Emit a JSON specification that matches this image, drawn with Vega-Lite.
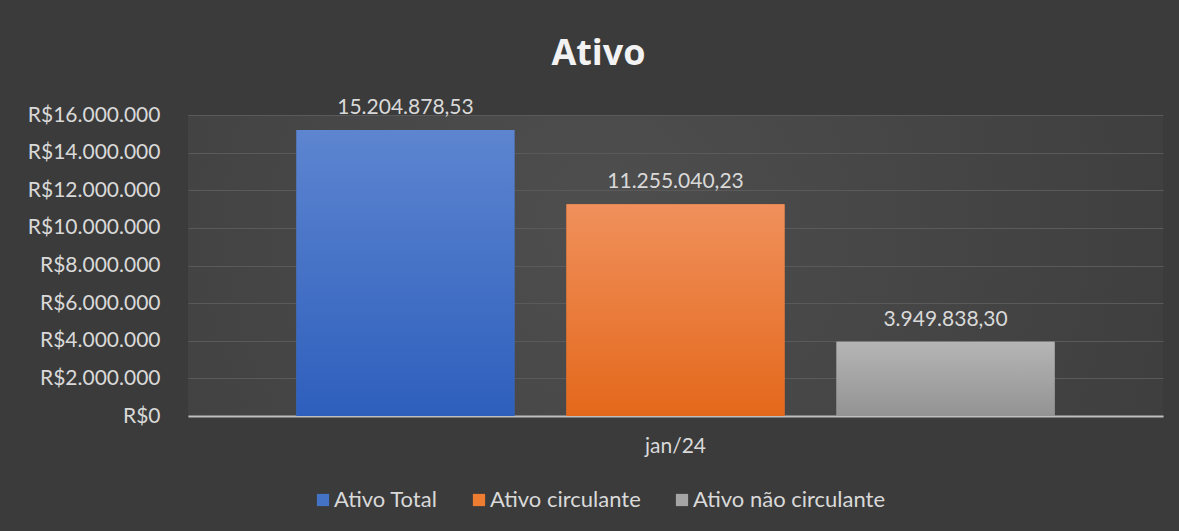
{
  "$schema": "https://vega.github.io/schema/vega-lite/v6.json",
  "width": 975,
  "height": 301,
  "autosize": {"type": "none"},
  "padding": {"left": 188, "top": 115, "right": 16, "bottom": 115},
  "background": "#3b3b3b",
  "config": {
    "locale": {
      "number": {"decimal": ",", "thousands": ".", "grouping": [3], "currency": ["R$", ""]}
    },
    "view": {
      "stroke": null,
      "fill": {
        "gradient": "radial",
        "x1": 0.42, "y1": 0.45, "x2": 0.42, "y2": 0.45, "r1": 0, "r2": 0.75,
        "stops": [{"offset": 0, "color": "#4e4e4e"}, {"offset": 1, "color": "#3b3b3b"}]
      }
    },
    "font": "Lato"
  },
  "title": {
    "text": "Ativo",
    "font": "Open Sans",
    "fontSize": 36,
    "fontWeight": "bold",
    "color": "#f2f2f2",
    "anchor": "middle",
    "dx": -77,
    "offset": 24
  },
  "data": {
    "values": [
      {"mes": "jan/24", "serie": "Ativo Total", "valor": 15204878.53},
      {"mes": "jan/24", "serie": "Ativo circulante", "valor": 11255040.23},
      {"mes": "jan/24", "serie": "Ativo não circulante", "valor": 3949838.30}
    ]
  },
  "encoding": {
    "x": {
      "field": "mes", "type": "nominal",
      "scale": {"paddingInner": 0, "paddingOuter": 0.143},
      "axis": {
        "title": null, "labelAngle": 0, "labelFontSize": 21, "labelColor": "#d9d9d9",
        "domainColor": "#bfbfbf", "domainWidth": 2, "ticks": false, "labelPadding": 19
      }
    },
    "xOffset": {
      "field": "serie", "type": "nominal",
      "sort": ["Ativo Total", "Ativo circulante", "Ativo não circulante"],
      "scale": {"paddingInner": 0.1926, "paddingOuter": 0}
    },
    "y": {
      "field": "valor", "type": "quantitative",
      "scale": {"domain": [0, 16000000], "nice": false},
      "axis": {
        "title": null, "format": "$,.0f",
        "values": [0, 2000000, 4000000, 6000000, 8000000, 10000000, 12000000, 14000000, 16000000],
        "labelFontSize": 21, "labelColor": "#d9d9d9", "labelPadding": 28,
        "domain": false, "ticks": false,
        "gridColor": "#5a5a5a", "gridWidth": 1
      }
    }
  },
  "layer": [
    {
      "mark": {"type": "bar"},
      "encoding": {
        "color": {
          "field": "serie", "type": "nominal",
          "sort": ["Ativo Total", "Ativo circulante", "Ativo não circulante"],
          "scale": {"domain": ["Ativo Total", "Ativo circulante", "Ativo não circulante"], "range": ["#4472c4", "#ed7d31", "#a5a5a5"]},
          "legend": {
            "title": null, "orient": "none", "direction": "horizontal",
            "legendX": 124, "legendY": 374,
            "symbolType": "square", "symbolSize": 150, "symbolStrokeWidth": 0, "symbolOpacity": 1,
            "labelFontSize": 22, "labelColor": "#d9d9d9", "labelOffset": 0, "columnPadding": 30,
            "labelLimit": 400
          }
        }
      }
    },
    {
      "transform": [{"filter": "datum.serie == 'Ativo Total'"}],
      "mark": {"type": "bar", "color": {"gradient": "linear", "x1": 0, "y1": 0, "x2": 0, "y2": 1,
        "stops": [{"offset": 0, "color": "#5d85d0"}, {"offset": 1, "color": "#2e5fbd"}]}}
    },
    {
      "transform": [{"filter": "datum.serie == 'Ativo circulante'"}],
      "mark": {"type": "bar", "color": {"gradient": "linear", "x1": 0, "y1": 0, "x2": 0, "y2": 1,
        "stops": [{"offset": 0, "color": "#f0905c"}, {"offset": 1, "color": "#e4681b"}]}}
    },
    {
      "transform": [{"filter": "datum.serie == 'Ativo não circulante'"}],
      "mark": {"type": "bar", "color": {"gradient": "linear", "x1": 0, "y1": 0, "x2": 0, "y2": 1,
        "stops": [{"offset": 0, "color": "#b5b5b5"}, {"offset": 1, "color": "#939393"}]}}
    },
    {
      "mark": {"type": "text", "baseline": "bottom", "dy": -12, "fontSize": 21, "color": "#d9d9d9"},
      "encoding": {"text": {"field": "valor", "type": "quantitative", "format": ",.2f"}}
    }
  ]
}
